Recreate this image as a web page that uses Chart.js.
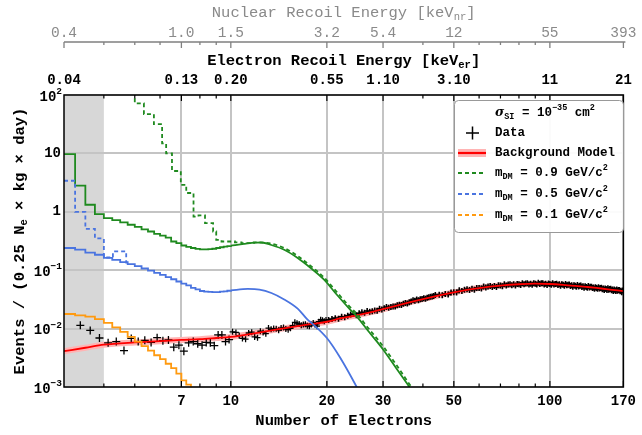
<!DOCTYPE html>
<html>
<head>
<meta charset="utf-8">
<script src="https://cdn.jsdelivr.net/npm/chart.js@4.4.1/dist/chart.umd.min.js"></script>
<style>
  body { margin: 0; background: #fff; }
  #wrap { width: 642px; height: 435px; }
</style>
</head>
<body>
<div id="wrap"><canvas id="c" width="642" height="435"></canvas></div>
<script>
// axis ranges and tick labels
const xMin = 3, xMax = 170;
const yMin = 1e-3, yMax = 1e2;
const xTickVals = [7, 10, 20, 30, 50, 100, 170];
const xMinorVals = [4, 5, 6, 8, 9, 40, 60, 70, 80, 90];
const topTickVals = [3, 7, 10, 20, 30, 50, 100, 170];
const erLabels = ["0.04", "0.13", "0.20", "0.55", "1.10", "3.10", "11", "21"];
const nrLabels = ["0.4", "1.0", "1.5", "3.2", "5.4", "12", "55", "393"];
const yTickExp = [-3, -2, -1, 0, 1, 2];
const shadedRange = [3, 4];

// measured event rate, low and mid Ne (bin centres)
const dataX = [3.375, 3.625, 3.875, 4.125, 4.375, 4.625, 4.875, 5.125, 5.375, 5.625, 5.875, 6.125, 6.375, 6.625,
  6.875, 7.125, 7.375, 7.625, 7.875, 8.125, 8.375, 8.625, 8.875, 9.125, 9.375, 9.625, 9.875,
  10.125, 10.375, 10.625, 10.875, 11.125, 11.375, 11.625, 11.875, 12.125, 12.375, 12.625, 12.875, 13.125, 13.375,
  13.625, 13.875, 14.125, 14.375, 14.625, 14.875, 15.125, 15.375, 15.625, 15.875, 16.125, 16.375, 16.625, 16.875,
  17.125, 17.375, 17.625, 17.875, 18.125, 18.375, 18.625, 18.875, 19.125, 19.375, 19.625, 19.875,
  20.25, 20.75, 21.25, 21.75, 22.25, 22.75, 23.25, 23.75, 24.25, 24.75, 25.25, 25.75, 26.25, 26.75, 27.25, 27.75,
  28.25, 28.75, 29.25, 29.75, 30.25, 30.75, 31.25, 31.75, 32.25, 32.75, 33.25, 33.75, 34.25, 34.75, 35.25, 35.75,
  36.25, 36.75, 37.25, 37.75, 38.25, 38.75, 39.25, 39.75, 40.25, 40.75, 41.25, 41.75, 42.25, 42.75, 43.25, 43.75];
const dataY = [0.0114, 0.0093, 0.0069, 0.0057, 0.0060, 0.0042, 0.0068, 0.0060, 0.0063, 0.0058, 0.0070, 0.0062, 0.0064, 0.0048,
  0.0052, 0.0041, 0.0057, 0.0060, 0.0055, 0.0052, 0.0058, 0.0057, 0.0051, 0.0078, 0.0078, 0.0060, 0.0065,
  0.0088, 0.0086, 0.0076, 0.0068, 0.0066, 0.0084, 0.0087, 0.0072, 0.0070, 0.0090, 0.0086, 0.0082, 0.0102, 0.0097,
  0.0100, 0.0099, 0.0094, 0.0102, 0.0104, 0.0098, 0.0096, 0.0101, 0.0112, 0.0128, 0.0124, 0.0120, 0.0114, 0.0117,
  0.0119, 0.0112, 0.0110, 0.0118, 0.0125, 0.0116, 0.0110, 0.0131, 0.0142, 0.0139, 0.0134, 0.0140,
  0.0141, 0.0146, 0.0151, 0.0148, 0.0160, 0.0157, 0.0166, 0.0174, 0.0178, 0.0169, 0.0183, 0.0190, 0.0186, 0.0200, 0.0195, 0.0199,
  0.0204, 0.0202, 0.0218, 0.0213, 0.0222, 0.0234, 0.0228, 0.0235, 0.0240, 0.0238, 0.0250, 0.0257, 0.0254, 0.0266, 0.0275, 0.0270,
  0.0283, 0.0290, 0.0305, 0.0299, 0.0316, 0.0306, 0.0318, 0.0322, 0.0330, 0.0326, 0.0336, 0.0344, 0.0350, 0.0355, 0.0362, 0.0375];

// measured event rate, high Ne (1 Ne steps from 45 to 169)
const dataHighX = [45, 46, 47, 48, 49, 50, 51, 52, 53, 54, 55, 56, 57, 58, 59, 60, 61, 62, 63, 64, 65, 66, 67, 68, 69,
  70, 71, 72, 73, 74, 75, 76, 77, 78, 79, 80, 81, 82, 83, 84, 85, 86, 87, 88, 89, 90, 91, 92, 93, 94, 95, 96, 97, 98, 99,
  100, 101, 102, 103, 104, 105, 106, 107, 108, 109, 110, 111, 112, 113, 114, 115, 116, 117, 118, 119, 120, 121, 122,
  123, 124, 125, 126, 127, 128, 129, 130, 131, 132, 133, 134, 135, 136, 137, 138, 139, 140, 141, 142, 143, 144, 145,
  146, 147, 148, 149, 150, 151, 152, 153, 154, 155, 156, 157, 158, 159, 160, 161, 162, 163, 164, 165, 166, 167, 168, 169];
const dataHighY = [0.0381, 0.0372, 0.0393, 0.0383, 0.0416, 0.0418, 0.0414, 0.0452, 0.0440, 0.0461,
  0.0474, 0.0458, 0.0479, 0.0462, 0.0498, 0.0495, 0.0485, 0.0525, 0.0505, 0.0525,
  0.0536, 0.0514, 0.0535, 0.0514, 0.0551, 0.0545, 0.0532, 0.0573, 0.0548, 0.0568,
  0.0577, 0.0552, 0.0572, 0.0546, 0.0583, 0.0575, 0.0559, 0.0600, 0.0572, 0.0592,
  0.0598, 0.0570, 0.0589, 0.0561, 0.0597, 0.0587, 0.0568, 0.0609, 0.0579, 0.0596,
  0.0600, 0.0571, 0.0588, 0.0558, 0.0593, 0.0580, 0.0561, 0.0599, 0.0568, 0.0583,
  0.0588, 0.0558, 0.0573, 0.0542, 0.0575, 0.0562, 0.0543, 0.0580, 0.0550, 0.0564,
  0.0568, 0.0538, 0.0552, 0.0522, 0.0553, 0.0540, 0.0522, 0.0557, 0.0528, 0.0542,
  0.0545, 0.0516, 0.0530, 0.0501, 0.0530, 0.0518, 0.0501, 0.0535, 0.0507, 0.0520,
  0.0523, 0.0495, 0.0508, 0.0481, 0.0509, 0.0497, 0.0480, 0.0513, 0.0485, 0.0498,
  0.0501, 0.0474, 0.0486, 0.0460, 0.0487, 0.0475, 0.0459, 0.0490, 0.0464, 0.0476,
  0.0479, 0.0454, 0.0466, 0.0441, 0.0466, 0.0455, 0.0439, 0.0469, 0.0444, 0.0456,
  0.0458, 0.0434, 0.0446, 0.0421, 0.0447];

// background model
const bgX = [3, 3.5, 4, 5, 6, 7, 8, 9, 10, 12, 14, 16, 18, 20, 22, 25, 28, 32, 36, 40, 45, 50, 55, 60, 70, 80, 90,
  100, 110, 120, 130, 140, 150, 160, 170];
const bgY = [0.0041, 0.0047, 0.0053, 0.0058, 0.0061, 0.0064, 0.0066, 0.0069, 0.0072, 0.0084, 0.0097, 0.0109, 0.0120,
  0.0131, 0.0149, 0.0170, 0.0195, 0.0235, 0.0278, 0.0320, 0.0370, 0.0418, 0.0460, 0.0495, 0.0545, 0.0575, 0.0587,
  0.0580, 0.0562, 0.0540, 0.0518, 0.0497, 0.0475, 0.0455, 0.0437];

// signal models, stepped part (left bin edges) and smooth part
const stepX = [3, 3.25, 3.5, 3.75, 4, 4.25, 4.5, 4.75, 5, 5.25, 5.5, 5.75, 6, 6.25, 6.5, 6.75, 7, 7.25, 7.5, 7.75,
  8, 8.25, 8.5, 8.75, 9, 9.25, 9.5, 9.75, 10];
const m09StepY = [9.7, 2.8, 1.32, 0.91, 0.78, 0.72, 0.66, 0.6, 0.55, 0.5, 0.46, 0.42, 0.39, 0.36, 0.31, 0.29, 0.265,
  0.25, 0.24, 0.232, 0.228, 0.227, 0.229, 0.233, 0.24, 0.247, 0.253, 0.258, 0.263];
const m05StepY = [0.24, 0.225, 0.2, 0.184, 0.163, 0.15, 0.138, 0.127, 0.117, 0.107, 0.098, 0.09, 0.083, 0.076, 0.07,
  0.064, 0.059, 0.055, 0.05, 0.047, 0.044, 0.043, 0.0425, 0.042, 0.042, 0.043, 0.0435, 0.0445, 0.045];
const m01StepY = [0.0178, 0.0168, 0.016, 0.0145, 0.0125, 0.0105, 0.0088, 0.0072, 0.006, 0.005, 0.0042, 0.0035, 0.003,
  0.0025, 0.0021, 0.0017, 0.0013, 0.0011, 0.0009, 0.0009];

const m09SmoothX = [10, 11, 12, 12.5, 13.4, 14.7, 16.2, 17.8, 19.6, 21.5, 23.7, 24.8, 27, 30, 33, 36.3, 38];
const m09SmoothY = [0.263, 0.283, 0.297, 0.298, 0.27, 0.224, 0.162, 0.109, 0.069, 0.038, 0.021, 0.0162, 0.009, 0.0044,
  0.0021, 0.001, 0.0007];
const m05SmoothX = [10, 11.3, 12.3, 13.4, 14.7, 16.2, 17.4, 18, 20, 22, 24.8, 26];
const m05SmoothY = [0.045, 0.0477, 0.0465, 0.0407, 0.0316, 0.022, 0.0142, 0.0122, 0.0069, 0.0032, 0.001, 0.0006];

// dashed variants
const m09DashStepX = [4.75, 5.0, 5.34, 5.74, 6.09, 6.27, 6.54, 6.97, 7.25, 7.64, 7.92, 8.3, 8.8, 9.0, 9.35, 9.7, 10.3,
  10.8, 11.3, 11.8, 12.3];
const m09DashStepY = [200, 72, 47, 31.6, 14.8, 10, 5.0, 2.9, 2.1, 0.83, 0.87, 0.64, 0.46, 0.33, 0.31, 0.31, 0.30, 0.29,
  0.29, 0.30, 0.30];
const m09DashX = [12.3, 13.4, 14.7, 16.2, 17.8, 19.6, 21.5, 23.7, 24.8, 27, 30, 33, 36.8, 38.5];
const m09DashY = [0.30, 0.285, 0.24, 0.175, 0.118, 0.075, 0.042, 0.023, 0.018, 0.0101, 0.005, 0.0024, 0.001, 0.0007];
const m05DashX = [3, 3.25, 3.5, 3.75, 4.0, 4.27, 4.7, 4.85];
const m05DashY = [3.4, 1.0, 0.51, 0.35, 0.165, 0.21, 0.135, 0.135];

const GREEN = "#1f8a1f", BLUE = "#4a74e0", ORANGE = "#ff9a10", RED = "#ff0000", PINK = "#ffb4b4";
const MONO = "'Liberation Mono', 'DejaVu Sans Mono', monospace";

const pts = (xs, ys) => xs.map((x, i) => ({ x: x, y: ys[i] }));

function lineSet(xs, ys, color, opts) {
  return Object.assign({
    data: pts(xs, ys), showLine: true, borderColor: color, borderWidth: 1.8,
    pointRadius: 0, fill: false
  }, opts);
}

// rich text: segments {t, sub, sup, italic}
function drawRich(ctx, segs, x, y, size, weight, color, align) {
  const fontFor = (s) => {
    const sz = (s.sub || s.sup) ? size * 0.68 : size;
    const fam = s.serif ? "'DejaVu Serif', serif" : MONO;
    return (s.italic ? "italic " : "") + weight + " " + sz + "px " + fam;
  };
  let w = 0;
  segs.forEach(s => { ctx.font = fontFor(s); w += ctx.measureText(s.t).width; });
  let cx = align === "center" ? x - w / 2 : align === "right" ? x - w : x;
  ctx.fillStyle = color;
  ctx.textAlign = "left";
  ctx.textBaseline = "middle";
  segs.forEach(s => {
    ctx.font = fontFor(s);
    let dy = s.sub ? size * 0.28 : s.sup ? -size * 0.38 : 0;
    ctx.fillText(s.t, cx, y + dy);
    cx += ctx.measureText(s.t).width;
  });
}

const deco = {
  id: "deco",
  beforeDraw(chart) {
    const { ctx, chartArea: a, scales: { x } } = chart;
    const x0 = x.getPixelForValue(shadedRange[0]), x1 = x.getPixelForValue(shadedRange[1]);
    ctx.save();
    ctx.fillStyle = "#d7d7d7";
    ctx.fillRect(x0, a.top, x1 - x0, a.bottom - a.top);
    ctx.restore();
  },
  afterDraw(chart) {
    const { ctx, chartArea: a, scales: { x, y } } = chart;
    ctx.save();

    // frame with inward ticks
    ctx.strokeStyle = "#000";
    ctx.lineWidth = 1.5;
    ctx.strokeRect(a.left, a.top, a.right - a.left, a.bottom - a.top);
    ctx.lineWidth = 1.2;
    ctx.beginPath();
    xTickVals.forEach(v => {
      const px = x.getPixelForValue(v);
      ctx.moveTo(px, a.bottom); ctx.lineTo(px, a.bottom - 6);
      ctx.moveTo(px, a.top); ctx.lineTo(px, a.top + 6);
    });
    xMinorVals.forEach(v => {
      const px = x.getPixelForValue(v);
      ctx.moveTo(px, a.bottom); ctx.lineTo(px, a.bottom - 3.5);
      ctx.moveTo(px, a.top); ctx.lineTo(px, a.top + 3.5);
    });
    ctx.stroke();

    // y tick labels
    yTickExp.forEach(e => {
      const py = y.getPixelForValue(Math.pow(10, e));
      if (e === 0) drawRich(ctx, [{ t: "1" }], a.left - 3, py, 14, "bold", "#000", "right");
      else if (e === 1) drawRich(ctx, [{ t: "10" }], a.left - 3, py, 14, "bold", "#000", "right");
      else drawRich(ctx, [{ t: "10" }, { t: e < 0 ? "\u2212" + (-e) : String(e), sup: true }], a.left - 2, py + 2, 14, "bold", "#000", "right");
    });

    // electron recoil axis (top, labels only)
    topTickVals.forEach((v, i) => {
      drawRich(ctx, [{ t: erLabels[i] }], x.getPixelForValue(v), 80, 14, "bold", "#000", "center");
    });
    const cxMid = (a.left + a.right) / 2;
    drawRich(ctx, [{ t: "Electron Recoil Energy [keV" }, { t: "er", sub: true }, { t: "]" }], cxMid, 61, 15.5, "bold", "#000", "center");

    // nuclear recoil axis
    const axY = 42;
    ctx.strokeStyle = "#808080";
    ctx.lineWidth = 1.3;
    ctx.beginPath();
    ctx.moveTo(x.getPixelForValue(xMin), axY);
    ctx.lineTo(x.getPixelForValue(xMax) + 2, axY);
    topTickVals.forEach(v => {
      const px = x.getPixelForValue(v);
      ctx.moveTo(px, axY); ctx.lineTo(px, axY + 6);
    });
    xMinorVals.forEach(v => {
      const px = x.getPixelForValue(v);
      ctx.moveTo(px, axY); ctx.lineTo(px, axY + 3);
    });
    ctx.stroke();
    topTickVals.forEach((v, i) => {
      drawRich(ctx, [{ t: nrLabels[i] }], x.getPixelForValue(v), 33, 14.5, "normal", "#8a8a8a", "center");
    });
    drawRich(ctx, [{ t: "Nuclear Recoil Energy [keV" }, { t: "nr", sub: true }, { t: "]" }], cxMid, 13, 15.5, "normal", "#8a8a8a", "center");

    // axis titles
    drawRich(ctx, [{ t: "Number of Electrons" }], cxMid, 421, 15.5, "bold", "#000", "center");
    ctx.save();
    ctx.translate(20, (a.top + a.bottom) / 2);
    ctx.rotate(-Math.PI / 2);
    drawRich(ctx, [{ t: "Events / (0.25 N" }, { t: "e", sub: true }, { t: " \u00d7 kg \u00d7 day)" }], 0, 0, 15.5, "bold", "#000", "center");
    ctx.restore();

    // legend
    const lx = 454, ly = 100, lw = 169, lh = 132;
    ctx.fillStyle = "rgba(255,255,255,0.92)";
    ctx.strokeStyle = "#999";
    ctx.lineWidth = 1;
    ctx.beginPath();
    ctx.roundRect(lx + 0.5, ly + 0.5, lw, lh, 4);
    ctx.fill();
    ctx.stroke();
    const tx = 495, fs = 12.5;
    drawRich(ctx, [{ t: "\u03c3", italic: true, serif: true }, { t: "SI", sub: true }, { t: " = 10" }, { t: "\u221235", sup: true },
      { t: " cm" }, { t: "2", sup: true }], tx, 113, fs, "bold", "#000", "left");
    // data cross
    ctx.strokeStyle = "#000"; ctx.lineWidth = 1.5;
    ctx.beginPath();
    ctx.moveTo(466, 133); ctx.lineTo(479, 133);
    ctx.moveTo(472.5, 126.5); ctx.lineTo(472.5, 139.5);
    ctx.stroke();
    drawRich(ctx, [{ t: "Data" }], tx, 133, fs, "bold", "#000", "left");
    // background model
    ctx.fillStyle = PINK;
    ctx.fillRect(458, 149, 28, 8);
    ctx.strokeStyle = RED; ctx.lineWidth = 2.2;
    ctx.beginPath(); ctx.moveTo(458, 153); ctx.lineTo(486, 153); ctx.stroke();
    drawRich(ctx, [{ t: "Background Model" }], tx, 153, fs, "bold", "#000", "left");
    const rows = [[173, GREEN, "0.9"], [194, BLUE, "0.5"], [215, ORANGE, "0.1"]];
    rows.forEach(r => {
      ctx.strokeStyle = r[1]; ctx.lineWidth = 1.8; ctx.setLineDash([4, 3]);
      ctx.beginPath(); ctx.moveTo(458, r[0]); ctx.lineTo(486, r[0]); ctx.stroke();
      ctx.setLineDash([]);
      drawRich(ctx, [{ t: "m" }, { t: "DM", sub: true }, { t: " = " + r[2] + " GeV/c" }, { t: "2", sup: true }], tx, r[0], fs, "bold", "#000", "left");
    });

    ctx.restore();
  }
};

const crossRadius = c => (c.raw && c.raw.x < 10 ? 4 : c.raw && c.raw.x < 20 ? 3 : 3);
const crossWidth = c => (c.raw && c.raw.x < 20 ? 1.3 : 1.6);

new Chart(document.getElementById("c"), {
  type: "scatter",
  data: {
    datasets: [
      lineSet(m09DashStepX, m09DashStepY, GREEN, { stepped: "before", borderDash: [4, 3], order: 1 }),
      lineSet(m09DashX, m09DashY, GREEN, { borderDash: [4, 3], cubicInterpolationMode: "monotone", order: 1 }),
      lineSet(m05DashX, m05DashY, BLUE, { stepped: "before", borderDash: [4, 3], order: 1 }),
      lineSet(stepX, m09StepY, GREEN, { stepped: "before", order: 2 }),
      lineSet(m09SmoothX, m09SmoothY, GREEN, { cubicInterpolationMode: "monotone", order: 2 }),
      lineSet(stepX, m05StepY, BLUE, { stepped: "before", order: 2 }),
      lineSet(m05SmoothX, m05SmoothY, BLUE, { cubicInterpolationMode: "monotone", order: 2 }),
      lineSet(stepX.slice(0, m01StepY.length), m01StepY, ORANGE, { stepped: "before", order: 2 }),
      lineSet(bgX, bgY, RED, { borderWidth: 1.8, cubicInterpolationMode: "monotone", order: 4 }),
      {
        data: pts(dataX, dataY), showLine: false, pointStyle: "cross", pointRadius: crossRadius,
        pointBorderWidth: crossWidth, borderColor: "#000", backgroundColor: "#000", order: 5
      },
      {
        data: pts(dataHighX, dataHighY), showLine: false, pointStyle: "cross", pointRadius: crossRadius,
        pointBorderWidth: crossWidth, borderColor: "#000", backgroundColor: "#000", order: 5
      },
      lineSet(bgX, bgY, PINK, { borderWidth: 6, cubicInterpolationMode: "monotone", order: 6 })
    ]
  },
  options: {
    responsive: false,
    animation: false,
    layout: { padding: { top: 95, right: 13, left: 0, bottom: 0 } },
    plugins: { legend: { display: false }, tooltip: { enabled: false } },
    scales: {
      x: {
        type: "logarithmic", min: xMin, max: xMax,
        afterBuildTicks: s => { s.ticks = xTickVals.map(v => ({ value: v })); },
        afterFit: s => { s.height = 48; },
        ticks: {
          autoSkip: false, maxRotation: 0, padding: 6, color: "#000",
          font: { family: "Liberation Mono", size: 14, weight: "bold" },
          callback: v => String(v)
        },
        grid: { color: "#c4c4c4", lineWidth: 2, drawTicks: false },
        border: { display: false }
      },
      y: {
        type: "logarithmic", min: yMin, max: yMax,
        afterBuildTicks: s => { s.ticks = yTickExp.map(e => ({ value: Math.pow(10, e) })); },
        afterFit: s => { s.width = 64; },
        ticks: { display: false },
        grid: { color: "#c4c4c4", lineWidth: 2, drawTicks: false },
        border: { display: false }
      }
    }
  },
  plugins: [deco]
});
</script>
</body>
</html>
